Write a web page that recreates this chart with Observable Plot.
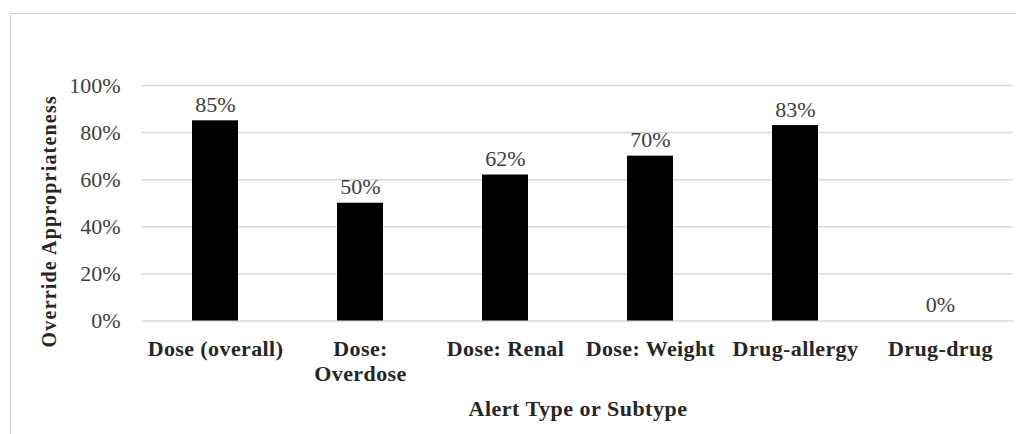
<!DOCTYPE html>
<html>
<head>
<meta charset="utf-8">
<script src="https://cdn.jsdelivr.net/npm/d3@7"></script>
<script src="https://cdn.jsdelivr.net/npm/@observablehq/plot@0.6"></script>
<style>
  html, body { margin: 0; padding: 0; background: #fff; overflow: hidden; }
  #wrap { position: relative; width: 1016px; height: 434px; }
  #frame { position: absolute; left: 10px; top: 13px; width: 1020px; height: 440px; border: 1.5px solid #d0d0d0; box-sizing: border-box; pointer-events: none; }
  svg { display: block; }
  .ytitle { letter-spacing: 1.2px; }
  .xtitle { letter-spacing: 0.5px; }
  .xcat { letter-spacing: 0.4px; }
</style>
</head>
<body>
<div id="wrap"><div id="frame"></div></div>
<script>
const categories = ["Dose (overall)", "Dose:\nOverdose", "Dose: Renal", "Dose: Weight", "Drug-allergy", "Drug-drug"];
const values = [0.85, 0.50, 0.62, 0.70, 0.83, 0.00];
const valueLabels = ["85%", "50%", "62%", "70%", "83%", "0%"];
const yTicks = [0, 0.2, 0.4, 0.6, 0.8, 1.0];
const xTitle = "Alert Type or Subtype";
const yTitle = "Override Appropriateness";

const data = categories.map((c, i) => ({cat: c, value: values[i], label: valueLabels[i]}));
const serif = "'Liberation Serif', 'Times New Roman', serif";

const chart = Plot.plot({
  width: 1016,
  height: 434,
  marginLeft: 142,
  marginRight: 3,
  marginTop: 85,
  marginBottom: 113.5,
  style: {fontFamily: serif, background: "transparent", overflow: "visible"},
  x: {domain: categories, paddingInner: 0.68, paddingOuter: 0.34, label: null},
  y: {domain: [0, 1], label: null},
  marks: [
    Plot.gridY(yTicks, {stroke: "#d9d9d9", strokeOpacity: 1, strokeWidth: 1.5}),
    Plot.barY(data, {x: "cat", y: "value", fill: "#000"}),
    Plot.text(data, {x: "cat", y: "value", text: "label", dy: -16, fontSize: 22, fill: "#404040"}),
    Plot.axisY(yTicks, {tickSize: 0, tickPadding: 22, tickFormat: d => Math.round(d * 100) + "%", fontSize: 22, fill: "#404040", label: null}),
    Plot.axisX({tickSize: 0, tickPadding: 17, fontSize: 22, fontWeight: "bold", fill: "#262626", lineHeight: 1.15, label: null, className: "xcat"}),
    Plot.text([xTitle], {frameAnchor: "bottom", dy: 87.5, lineAnchor: "middle", fontSize: 22, fontWeight: "bold", fill: "#262626", className: "xtitle"}),
    Plot.text([yTitle], {frameAnchor: "left", dx: -93, dy: 18, rotate: -90, textAnchor: "middle", fontSize: 20, fontWeight: "bold", fill: "#262626", className: "ytitle"})
  ]
});
document.getElementById("wrap").prepend(chart);
</script>
</body>
</html>
